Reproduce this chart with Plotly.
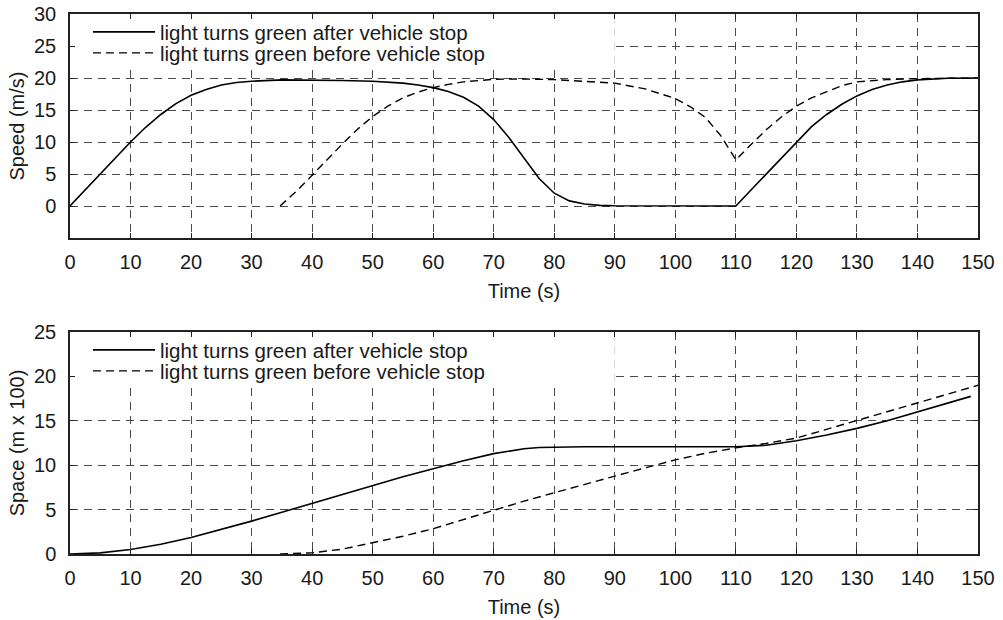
import plotly.graph_objects as go

# ---------------- data ----------------
legend_after = "light turns green after vehicle stop"
legend_before = "light turns green before vehicle stop"

t_speed_after = [0, 2.5, 5, 7.5, 10, 12.5, 15, 17.5, 20, 22.5, 25, 27.5, 30, 35, 40, 45, 50, 55,
                 57.5, 60, 62.5, 65, 67.5, 70, 72.5, 75, 77.5, 80, 82.5, 85, 87.5, 90, 100, 110,
                 112.5, 115, 117.5, 120, 122.5, 125, 127.5, 130, 132.5, 135, 137.5, 140, 145, 150]
v_speed_after = [0, 2.5, 5, 7.5, 10, 12.3, 14.3, 16.0, 17.3, 18.2, 18.9, 19.3, 19.5, 19.7, 19.7, 19.6,
                 19.5, 19.2, 18.9, 18.5, 17.9, 17.0, 15.6, 13.5, 10.7, 7.4, 4.3, 2.0, 0.8, 0.3, 0.1,
                 0.03, 0, 0, 2.5, 5, 7.5, 10, 12.4, 14.3, 15.9, 17.2, 18.2, 18.9, 19.4, 19.7, 19.95, 20]

t_speed_before = [34.7, 37.5, 40, 42.5, 45, 47.5, 50, 52.5, 55, 57.5, 60, 62.5, 65, 70, 75, 80, 85,
                  90, 95, 97.5, 100, 102.5, 105, 107.5, 110, 112.5, 115, 117.5, 120, 122.5, 125,
                  127.5, 130, 135, 140, 145, 150]
v_speed_before = [0, 2.4, 4.8, 7.3, 9.7, 12.0, 14.0, 15.6, 16.9, 17.8, 18.5, 19.0, 19.4, 19.8, 19.85,
                  19.75, 19.5, 19.2, 18.3, 17.6, 16.8, 15.5, 13.8, 11.0, 7.2, 9.6, 11.9, 13.9, 15.6,
                  16.9, 17.9, 18.8, 19.4, 19.75, 19.9, 20, 20]

t_space_after = [0, 5, 10, 15, 20, 25, 30, 35, 40, 45, 50, 55, 60, 65, 70, 72.5, 75, 77.5, 80, 85,
                 90, 100, 110, 115, 120, 125, 130, 135, 140, 145, 148.8]
s_space_after = [0, 0.13, 0.5, 1.1, 1.85, 2.75, 3.7, 4.7, 5.7, 6.7, 7.7, 8.7, 9.6, 10.5, 11.3, 11.6,
                 11.85, 12.0, 12.05, 12.07, 12.07, 12.07, 12.07, 12.25, 12.75, 13.4, 14.15, 15.0,
                 16.0, 16.95, 17.75]

t_space_before = [34.7, 40, 45, 50, 55, 60, 65, 70, 75, 80, 85, 90, 95, 100, 105, 110, 115, 120,
                  125, 130, 135, 140, 145, 150]
s_space_before = [0, 0.13, 0.55, 1.25, 2.0, 2.85, 3.9, 4.95, 5.95, 6.9, 7.85, 8.75, 9.7, 10.6, 11.35,
                  11.95, 12.45, 13.05, 14.05, 15.05, 16.05, 17.0, 18.0, 19.0]

x_ticks = list(range(0, 151, 10))
speed_ticks = [0, 5, 10, 15, 20, 25, 30]
space_ticks = [0, 5, 10, 15, 20, 25]

# ---------------- figure ----------------
FONT = "Liberation Sans, Arial, sans-serif"
FS = 20
TXT = "#1a1a1a"
W, H = 1003, 620
L, R, T, B = 70, 25, 14, 66
PW = W - L - R
PH = H - T - B  # plot-area height


def ydom(top_px, bot_px):
    return [(H - B - bot_px) / PH, (H - B - top_px) / PH]


fig = go.Figure()
solid = dict(color="black", width=1.6)
dashed = dict(color="black", width=1.4, dash="8px,5px")

fig.add_trace(go.Scatter(x=t_speed_after, y=v_speed_after, mode="lines", line=solid,
                         name=legend_after, xaxis="x", yaxis="y", legend="legend"))
fig.add_trace(go.Scatter(x=t_speed_before, y=v_speed_before, mode="lines", line=dashed,
                         name=legend_before, xaxis="x", yaxis="y", legend="legend2"))
fig.add_trace(go.Scatter(x=t_space_after, y=s_space_after, mode="lines", line=solid,
                         name=legend_after, xaxis="x2", yaxis="y2", legend="legend3"))
fig.add_trace(go.Scatter(x=t_space_before, y=s_space_before, mode="lines", line=dashed,
                         name=legend_before, xaxis="x2", yaxis="y2", legend="legend4"))

axis_common = dict(
    showline=True, linecolor="#222", linewidth=1.5, mirror="ticks",
    ticks="inside", ticklen=5, tickcolor="#222", tickwidth=1,
    showgrid=True, gridcolor="#4a4a4a", gridwidth=1, griddash="8px,6px",
    zeroline=False, automargin=False,
    tickfont=dict(family=FONT, size=FS, color=TXT),
    title_font=dict(family=FONT, size=FS, color=TXT),
)
xaxis_common = dict(range=[0, 150], tickvals=x_ticks, ticklabelstandoff=5, **axis_common)
yaxis_common = dict(ticklabelstandoff=8, **axis_common)


def leg(ypx):
    return dict(x=(88 - L) / PW, y=(H - B - ypx) / PH, xref="paper", yref="paper",
                xanchor="left", yanchor="middle", bgcolor="rgba(0,0,0,0)",
                font=dict(family=FONT, size=20.5, color=TXT), itemwidth=62)


fig.update_layout(
    width=W, height=H, margin=dict(l=L, r=R, t=T, b=B, autoexpand=False),
    paper_bgcolor="white", plot_bgcolor="white",
    font=dict(family=FONT, size=FS, color=TXT),
    xaxis=dict(anchor="y", title=dict(text="Time (s)", standoff=12), **xaxis_common),
    yaxis=dict(domain=ydom(14, 238), range=[-5, 30], tickvals=speed_ticks, anchor="x",
               title=dict(text="Speed (m/s)", standoff=4), **yaxis_common),
    xaxis2=dict(anchor="y2", title=dict(text="Time (s)", standoff=12), **xaxis_common),
    yaxis2=dict(domain=ydom(332, 554), range=[0, 25], tickvals=space_ticks, anchor="x2",
                title=dict(text="Space (m x 100)", standoff=4), **yaxis_common),
    legend=leg(32), legend2=leg(53), legend3=leg(350), legend4=leg(371),
    showlegend=True,
    shapes=[
        dict(type="rect", xref="x", yref="y", x0=0, x1=90, y0=21.9, y1=30,
             fillcolor="white", line=dict(width=0), layer="between"),
        dict(type="rect", xref="x2", yref="y2", x0=0, x1=90, y0=19.1, y1=25,
             fillcolor="white", line=dict(width=0), layer="between"),
    ],
)

fig.write_html("out.html")
